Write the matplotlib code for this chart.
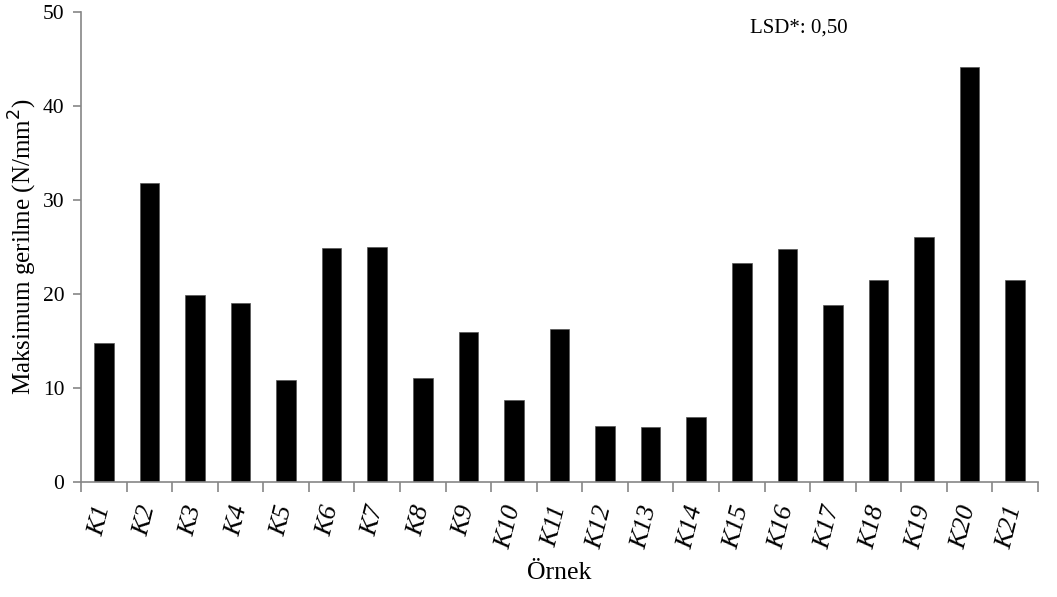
import numpy as np
import matplotlib; matplotlib.use("Agg")
import matplotlib.pyplot as plt

plt.rcParams['font.family'] = ['Liberation Serif', 'DejaVu Serif']

samples = [f"K{i}" for i in range(1, 22)]
stress = [14.75, 31.8, 19.86, 19.08, 10.85, 24.93, 25.03, 11.03, 15.96, 8.69,
          16.31, 5.99, 5.89, 6.88, 23.26, 24.75, 18.79, 21.46, 26.03, 44.15, 21.52]
lsd_text = "LSD*: 0,50"

W, H = 1057, 597
fig = plt.figure(figsize=(W/100, H/100), dpi=100)
ax = fig.add_axes([81/W, 1-482/H, (1038-81)/W, (482-12)/H])

x = np.arange(len(samples))
ax.bar(x, stress, width=0.43, color="black", edgecolor="#555555", linewidth=0.5)

ax.set_xlim(-0.5, len(samples)-0.5)
ax.set_ylim(0, 50)
ax.set_yticks(range(0, 51, 10))
ax.set_xticks(x)
ax.set_xticklabels(samples, rotation=76, style="italic", fontsize=19,
                   rotation_mode="anchor", ha="right", va="center")
ax.tick_params(axis="x", length=0, pad=17)
ax.set_xticks(np.arange(-0.5, len(samples)), minor=True)
ax.tick_params(axis="x", which="minor", length=7, color="#868686", width=1.2)
ax.tick_params(axis="y", length=6, color="#868686", width=1.2, labelsize=15.5, pad=6)

for s in ["top", "right"]:
    ax.spines[s].set_visible(False)
for s in ["left", "bottom"]:
    ax.spines[s].set_color("#868686")
    ax.spines[s].set_linewidth(1.2)

ax.set_ylabel("Maksimum gerilme (N/mm$^2$)", fontsize=18, labelpad=3)
ax.set_xlabel("Örnek", fontsize=18.5, labelpad=8)
ax.text(15.25, 48.3, lsd_text, ha="center", va="center", fontsize=15)

fig.savefig("out.png", dpi=100)
